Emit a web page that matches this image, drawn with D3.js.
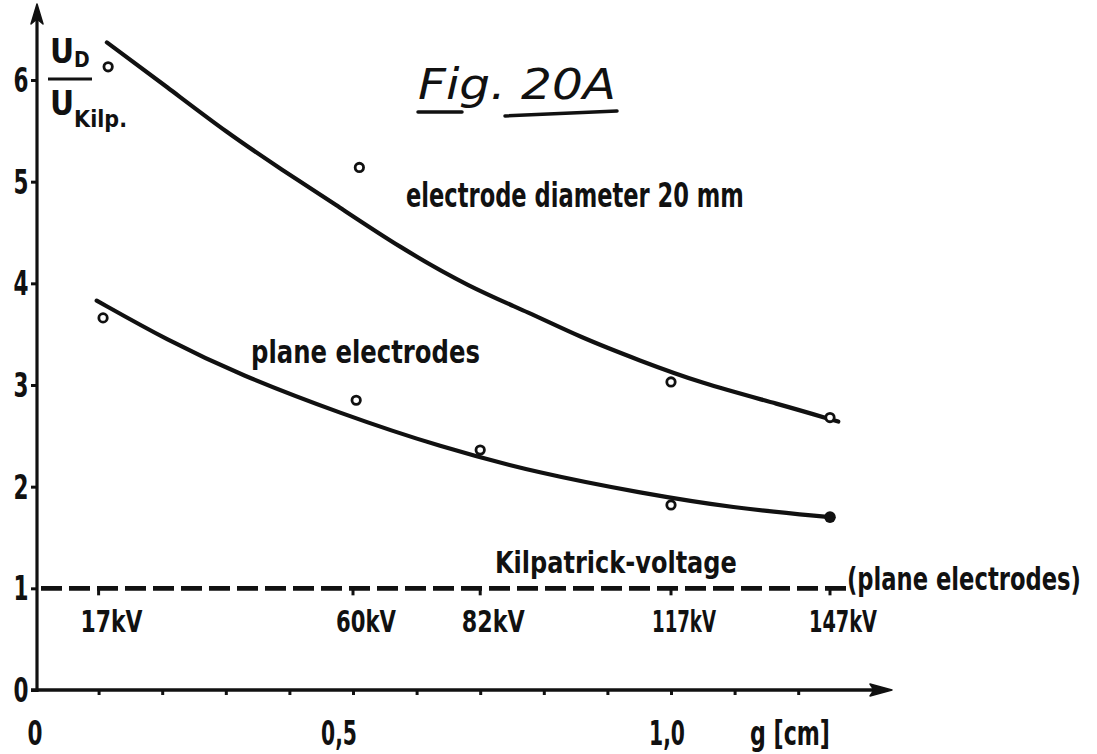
<!DOCTYPE html>
<html>
<head>
<meta charset="utf-8">
<script src="https://cdn.jsdelivr.net/npm/d3@7"></script>
<style>
  html, body { margin: 0; padding: 0; background: #fff; }
  svg { display: block; }
  text {
    font-family: "Liberation Sans Narrow", "DejaVu Sans Condensed", "Liberation Sans", sans-serif;
    font-weight: bold;
    fill: #111;
  }
</style>
</head>
<body>
<svg id="chart" width="1097" height="754"></svg>
<script>
// Measured breakdown ratios U_D / U_Kilp. against gap width g [cm]
const gapsSphere  = [0.115, 0.51, 1.0, 1.25];
const ratioSphere = [6.13, 5.14, 3.03, 2.68];
const gapsPlane   = [0.107, 0.505, 0.70, 1.0];
const ratioPlane  = [3.66, 2.85, 2.36, 1.82];
const gapPlaneLast   = [1.25];
const ratioPlaneLast = [1.70];

// Hand-fitted curves through the measurements
const fitSphereG = [0.113, 0.208, 0.302, 0.390, 0.469, 0.574, 0.684, 0.778, 0.857, 0.951, 1.046, 1.171, 1.263];
const fitSphereV = [6.37, 5.93, 5.48, 5.11, 4.79, 4.35, 3.96, 3.71, 3.47, 3.24, 3.02, 2.81, 2.64];
const fitPlaneG  = [0.097, 0.208, 0.322, 0.480, 0.637, 0.794, 0.951, 1.097, 1.250];
const fitPlaneV  = [3.83, 3.44, 3.10, 2.72, 2.39, 2.13, 1.94, 1.79, 1.70];

// Kilpatrick voltage (plane electrodes) at each gap
const kilpatrickLevel = 1;
const kvGaps   = [0.1, 0.5, 0.7, 1.0, 1.25];
const kvLabels = ["17kV", "60kV", "82kV", "117kV", "147kV"];

// Axes
const yTicks       = [0, 1, 2, 3, 4, 5, 6];
const xMinorTicks  = [0.1, 0.2, 0.3, 0.4, 0.5, 0.6, 0.7, 0.8, 0.9, 1.0, 1.1, 1.2];
const xLabelValues = [0, 0.5, 1.0];
const xLabelText   = ["0", "0,5", "1,0"];

const svg = d3.select("#chart");
const ink = "#111";

const x = d3.scaleLinear().domain([0, 1]).range([35, 671]);
const y = d3.scaleLinear().domain([0, 6]).range([690, 80]);

// Narrow stencil lettering: squeeze each label horizontally to its set width
function squeeze(sel, len) {
  sel.each(function (d, i) {
    const target = typeof len === "function" ? len(d, i) : len;
    const w = this.getComputedTextLength();
    if (!w) return;
    const s = target / w;
    const x0 = +this.getAttribute("x");
    d3.select(this).attr("transform", `translate(${x0},0) scale(${s},1) translate(${-x0},0)`);
  });
}

// ---- y axis with arrow ----
const yAxis = d3.axisLeft(y).tickValues(yTicks).tickSize(6).tickFormat("");
const gy = svg.append("g").attr("transform", `translate(${x(0) + 2},0)`).call(yAxis);
gy.select(".domain").remove();
gy.selectAll(".tick line").attr("stroke", ink).attr("stroke-width", 3);
svg.append("line")
  .attr("x1", x(0) + 2).attr("y1", y(0) + 2)
  .attr("x2", x(0) + 2).attr("y2", 14)
  .attr("stroke", ink).attr("stroke-width", 3.2);
svg.append("path")
  .attr("d", `M${x(0) + 2},4 L${x(0) - 4},24 L${x(0) + 2},19 L${x(0) + 8},24 Z`)
  .attr("fill", ink).attr("stroke", ink).attr("stroke-width", 1.5).attr("stroke-linejoin", "round");

svg.append("g").selectAll("text").data(yTicks).join("text")
  .attr("x", 21).attr("y", d => y(d) + 12)
  .attr("text-anchor", "middle")
  .attr("font-size", 34)
  .text(d => d)
  .call(squeeze, 15);

// ---- x axis with arrow ----
const xAxis = d3.axisBottom(x).tickValues(xMinorTicks).tickSize(5).tickFormat("");
const gx = svg.append("g").attr("transform", `translate(0,${y(0)})`).call(xAxis);
gx.select(".domain").remove();
gx.selectAll(".tick line").attr("stroke", ink).attr("stroke-width", 3);
svg.append("line")
  .attr("x1", x(0) - 4).attr("y1", y(0))
  .attr("x2", 874).attr("y2", y(0))
  .attr("stroke", ink).attr("stroke-width", 3.4);
svg.append("path")
  .attr("d", `M892,${y(0)} L870,${y(0) - 6} L874,${y(0)} L870,${y(0) + 6} Z`)
  .attr("fill", ink).attr("stroke", ink).attr("stroke-width", 1.5).attr("stroke-linejoin", "round");

svg.append("g").selectAll("text").data(xLabelValues).join("text")
  .attr("x", (d, i) => x(d) + [0, -14, -4][i])
  .attr("y", 745)
  .attr("text-anchor", "middle")
  .attr("font-size", 34)
  .text((d, i) => xLabelText[i])
  .call(squeeze, (d, i) => [15, 36, 36][i]);

svg.append("text").attr("x", 790).attr("y", 745).attr("text-anchor", "middle")
  .attr("font-size", 34).text("g [cm]").call(squeeze, 80);

// ---- Kilpatrick voltage: dashed reference line ----
svg.append("line")
  .attr("x1", x(0) + 6).attr("y1", y(kilpatrickLevel))
  .attr("x2", 846).attr("y2", y(kilpatrickLevel))
  .attr("stroke", ink).attr("stroke-width", 4.8)
  .attr("stroke-dasharray", "21 7");
svg.append("g").selectAll("line").data(kvGaps).join("line")
  .attr("x1", d => x(d)).attr("x2", d => x(d))
  .attr("y1", y(kilpatrickLevel)).attr("y2", y(kilpatrickLevel) + 7)
  .attr("stroke", ink).attr("stroke-width", 3);
svg.append("g").selectAll("text").data(kvGaps).join("text")
  .attr("x", d => x(d) + 13)
  .attr("y", y(kilpatrickLevel) + 44)
  .attr("text-anchor", "middle")
  .attr("font-size", 30)
  .text((d, i) => kvLabels[i])
  .call(squeeze, (d, i) => [62, 60, 63, 64, 68][i]);

svg.append("text").attr("x", 495).attr("y", 573).attr("font-size", 30)
  .text("Kilpatrick-voltage").call(squeeze, 242);
svg.append("text").attr("x", 847).attr("y", 590).attr("font-size", 32)
  .text("(plane electrodes)").call(squeeze, 234);

// ---- fitted curves ----
const line = d3.line().x(d => x(d[0])).y(d => y(d[1])).curve(d3.curveBasis);
svg.append("path")
  .datum(d3.zip(fitSphereG, fitSphereV))
  .attr("d", line).attr("fill", "none")
  .attr("stroke", ink).attr("stroke-width", 4.2).attr("stroke-linecap", "round");
svg.append("path")
  .datum(d3.zip(fitPlaneG, fitPlaneV))
  .attr("d", line).attr("fill", "none")
  .attr("stroke", ink).attr("stroke-width", 4.2).attr("stroke-linecap", "round");

// ---- measured points ----
svg.append("g").selectAll("circle").data(d3.zip(gapsSphere, ratioSphere)).join("circle")
  .attr("cx", d => x(d[0])).attr("cy", d => y(d[1])).attr("r", 4.2)
  .attr("fill", "#fff").attr("stroke", ink).attr("stroke-width", 2.8);
svg.append("g").selectAll("circle").data(d3.zip(gapsPlane, ratioPlane)).join("circle")
  .attr("cx", d => x(d[0])).attr("cy", d => y(d[1])).attr("r", 4.2)
  .attr("fill", "#fff").attr("stroke", ink).attr("stroke-width", 2.8);
svg.append("g").selectAll("circle").data(d3.zip(gapPlaneLast, ratioPlaneLast)).join("circle")
  .attr("cx", d => x(d[0])).attr("cy", d => y(d[1])).attr("r", 5.8)
  .attr("fill", ink);

// ---- curve labels ----
svg.append("text").attr("x", 406).attr("y", 207).attr("font-size", 34)
  .text("electrode diameter 20 mm").call(squeeze, 338);
svg.append("text").attr("x", 251).attr("y", 363).attr("font-size", 32)
  .text("plane electrodes").call(squeeze, 229);

// ---- axis title: U_D / U_Kilp. ----
const yt = svg.append("g");
yt.append("text").attr("x", 50).attr("y", 63).attr("font-size", 33).text("U")
  .append("tspan").attr("font-size", 21).attr("dy", 4).text("D");
yt.append("line").attr("x1", 48).attr("x2", 92).attr("y1", 79).attr("y2", 79)
  .attr("stroke", ink).attr("stroke-width", 3);
const kl = yt.append("text").attr("x", 50).attr("y", 115).attr("font-size", 33);
kl.append("tspan").text("U");
kl.append("tspan").attr("font-size", 23).attr("dy", 12).text("Kilp.");

// ---- figure title ----
svg.append("text").attr("x", 418).attr("y", 99)
  .attr("font-size", 42)
  .style("font-family", "'DejaVu Sans', sans-serif")
  .style("font-style", "italic")
  .style("font-weight", "normal")
  .text("Fig. 20A").call(squeeze, 198);
svg.append("path").attr("d", "M418,112 L462,112").attr("stroke", ink).attr("stroke-width", 3.5).attr("stroke-linecap", "round");
svg.append("path").attr("d", "M505,116 L617,111").attr("stroke", ink).attr("stroke-width", 3.5).attr("stroke-linecap", "round");
</script>
</body>
</html>
